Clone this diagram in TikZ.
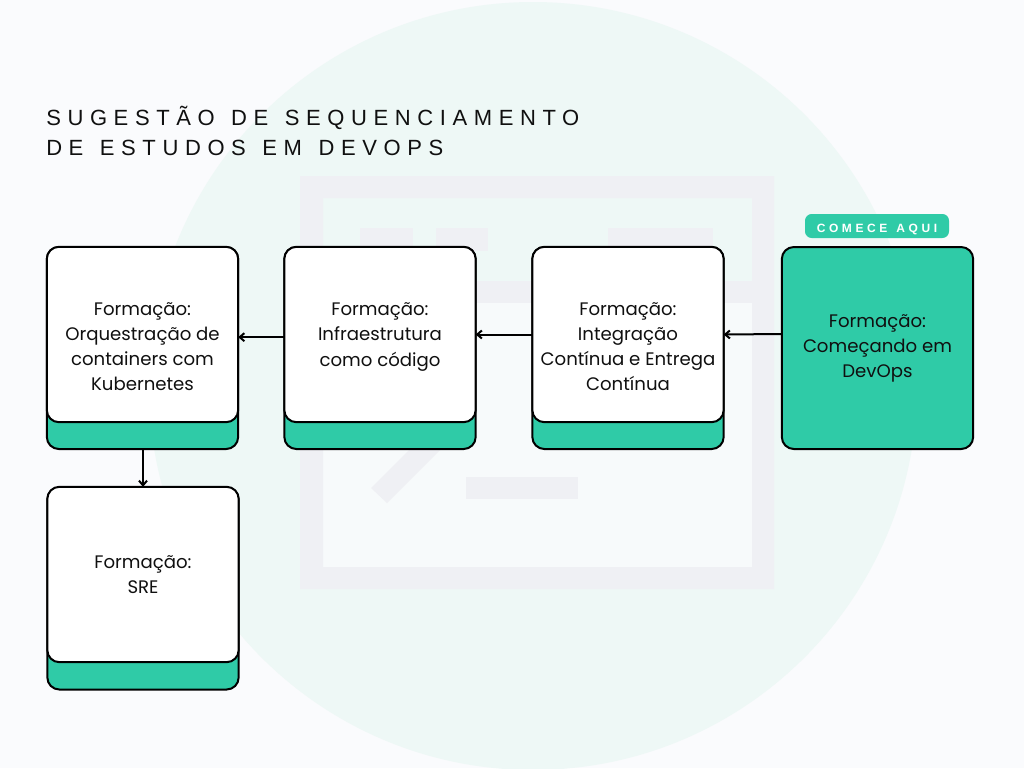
\documentclass[tikz,border=0pt]{standalone}
\usepackage{fontspec}
\usetikzlibrary{arrows.meta}
\setmainfont{Poppins}
\newfontfamily\titlefont[LetterSpace=30,WordSpace=1.38]{Liberation Sans}
\newfontfamily\badgefont[LetterSpace=30,WordSpace=1.3]{Liberation Sans}
\definecolor{paper}{HTML}{FAFBFD}
\definecolor{disc}{HTML}{EEF8F6}
\definecolor{ghost}{HTML}{EFF0F4}
\definecolor{pale}{HTML}{F7FAFB}
\definecolor{mint}{HTML}{2FCBA7}
\definecolor{ink}{HTML}{101010}
\tikzset{
	base/.style={draw=black,fill=mint,line width=1.5pt,rounded corners=9pt,inner sep=0pt,outer sep=0pt,minimum width=143.5pt,minimum height=151.5pt},
	card/.style={draw=black,fill=white,line width=1.5pt,rounded corners=9pt,inner sep=0pt,outer sep=0pt,minimum width=143.5pt,minimum height=131.5pt,align=center,text=ink,font=\fontsize{13.6}{18.8}\selectfont},
	start/.style={base,align=center,text=ink,font=\fontsize{13.6}{18.8}\selectfont},
	link/.style={-{Straight Barb[length=3.5pt,width=6pt]},line width=1.5pt,draw=black}
}
\begin{document}
\begin{tikzpicture}[x=0.75pt,y=-0.75pt]
	\useasboundingbox (0,0) rectangle (1024,768);
	\fill[paper] (0,0) rectangle (1024,768);
	\begin{scope}
		\clip (0,0) rectangle (1024,768);
		\fill[disc] (533,386) circle (384);
	\end{scope}
	\fill[pale] (323,303) rectangle (752,567);
	\fill[ghost,even odd rule] (300,176) rectangle (774,589) (323,198) rectangle (752,567);
	\fill[ghost] (323,281) rectangle (752,303);
	\foreach \x/\w in {360/413,436/488,608/713}{
		\fill[ghost] (\x,228) rectangle (\w,251);
	}
	\fill[ghost] (466,477) rectangle (578,499);
	\fill[ghost] (371,488) -- (387,503) -- (460,430) -- (444,415) -- cycle;
	\node[anchor=north west,align=left,text=ink,inner sep=0pt,font=\titlefont\fontsize{16.5}{22.5}\selectfont] (title) at (46,106) {SUGESTÃO DE SEQUENCIAMENTO\\DE ESTUDOS EM DEVOPS};
	\node[base] (base1) at (142.5,348) {};
	\node[base] (base2) at (380,348) {};
	\node[base] (base3) at (628,348) {};
	\node[base] (base5) at (143,588.5) {};
	\node[card,text height=84pt] (card1) at (142.5,334.5) {Formação:\\Orquestração de\\containers com\\Kubernetes};
	\node[card,text height=51pt] (card2) at (380,334.5) {Formação:\\Infraestrutura\\como código};
	\node[card,text height=84pt] (card3) at (628,334.5) {Formação:\\Integração\\Contínua e Entrega\\Contínua};
	\node[start] (card4) at (877.5,348) {Formação:\\Começando em\\DevOps};
	\node[card] (card5) at (143,574.5) {Formação:\\SRE};
	\node[fill=mint,rounded corners=5pt,minimum width=108pt,minimum height=18pt,inner sep=0pt,text=white,text height=9.5pt,text depth=0pt,font=\badgefont\bfseries\fontsize{9}{10}\selectfont] (badge) at (877,226) {COMECE AQUI};
	\draw[link] ([yshift=10.5pt]card4.west) -- (card3.east);
	\draw[link] (card3.west) -- (card2.east);
	\draw[link] ([yshift=-2pt]card2.west) -- ([yshift=-2pt]card1.east);
	\draw[link] (card5.north |- base1.south) -- (card5.north);
\end{tikzpicture}
\end{document}
